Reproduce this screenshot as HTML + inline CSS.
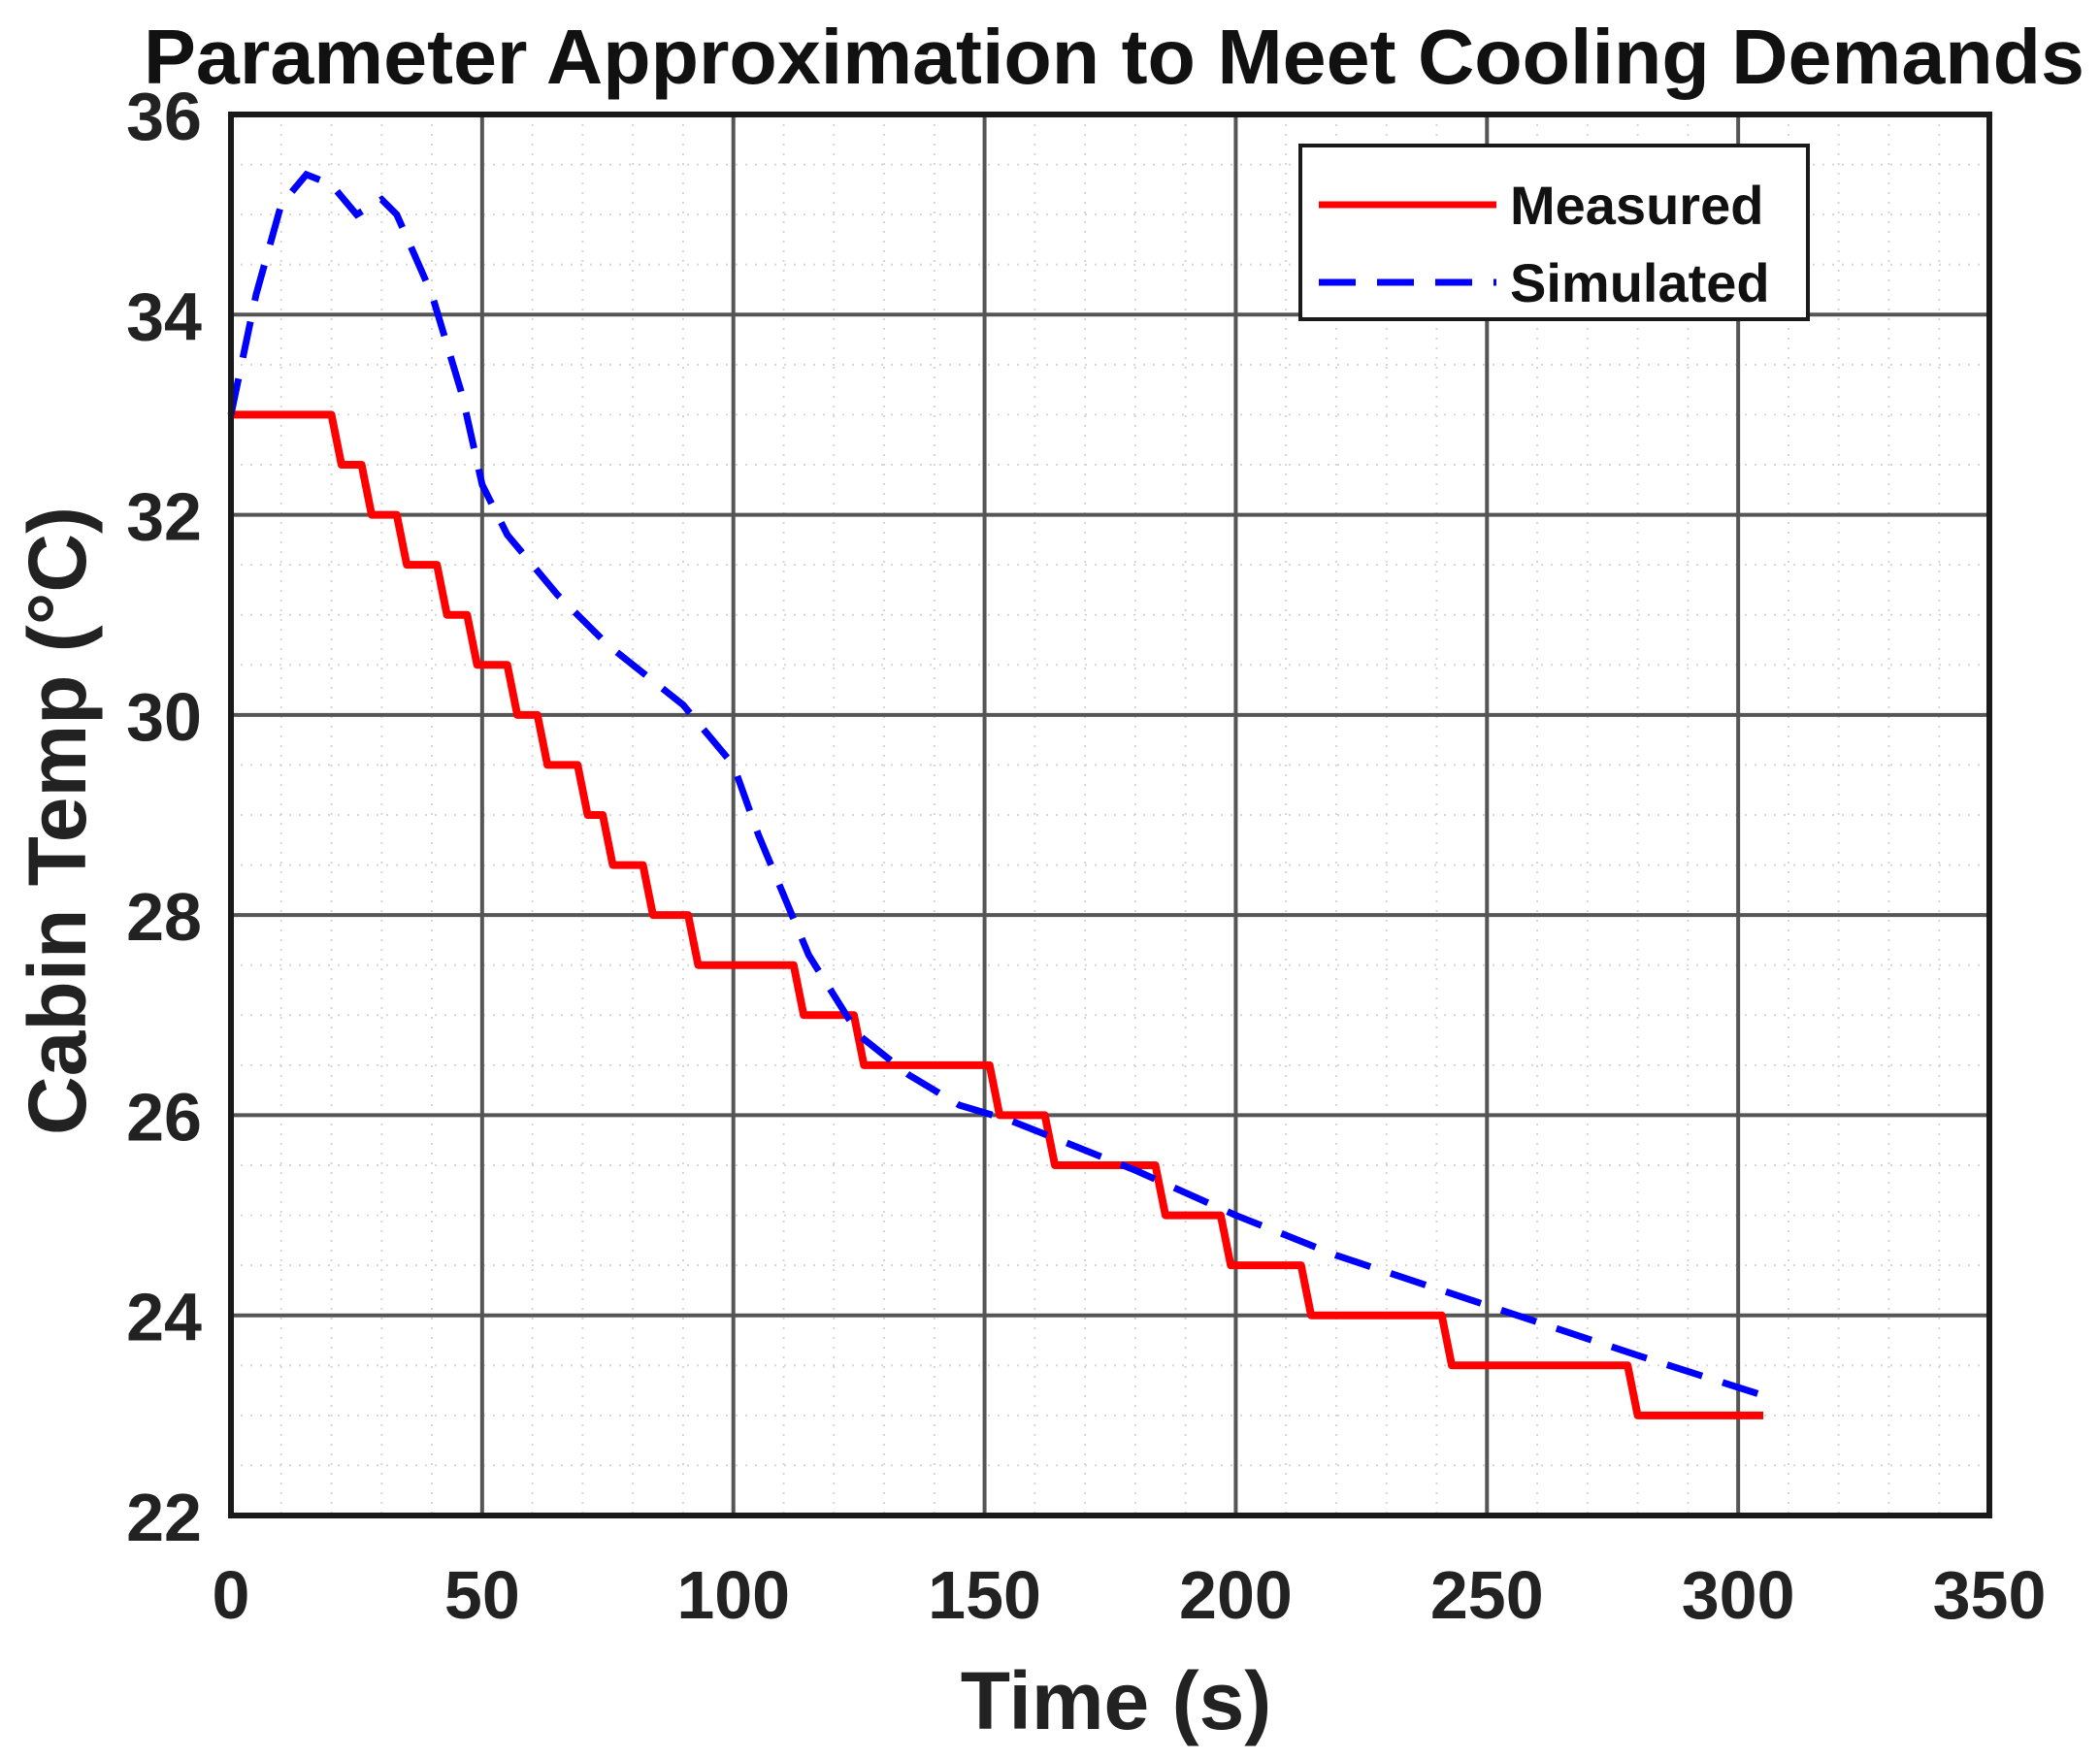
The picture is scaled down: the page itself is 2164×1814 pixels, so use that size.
<!DOCTYPE html>
<html><head><meta charset="utf-8"><style>
html,body{margin:0;padding:0;background:#fff;}
svg{display:block;font-family:"Liberation Sans",Arial,sans-serif;font-weight:bold;}
</style></head><body>
<svg id="chart" width="2164" height="1814" viewBox="0 0 2164 1814" xmlns="http://www.w3.org/2000/svg">
<rect x="0" y="0" width="2164" height="1814" fill="#fff"/>
<rect x="238" y="118" width="1812" height="1444" fill="#fff"/>
<g id="grid"></g>
<g id="series"></g>
<rect x="238" y="118" width="1812" height="1444" fill="none" stroke="#1a1a1a" stroke-width="6"/>
<g id="ticks" font-size="70" fill="#222"></g>
<text x="1148" y="86" text-anchor="middle" font-size="80" textLength="2000" lengthAdjust="spacingAndGlyphs" fill="#111">Parameter Approximation to Meet Cooling Demands</text>
<text x="1150" y="1782" text-anchor="middle" font-size="84" fill="#222">Time (s)</text>
<text transform="translate(88,846) rotate(-90)" text-anchor="middle" font-size="84" fill="#222">Cabin Temp (°C)</text>
<g>
<rect x="1340" y="150" width="523" height="179" fill="#fff" stroke="#1a1a1a" stroke-width="4"/>
<line x1="1359" y1="211" x2="1542" y2="211" stroke="#f00" stroke-width="7"/>
<text x="1556" y="231" font-size="56" fill="#111">Measured</text>
<line x1="1359" y1="291" x2="1542" y2="291" stroke="#00f" stroke-width="7" stroke-dasharray="38,22"/>
<text x="1556" y="311" font-size="56" fill="#111">Simulated</text>
</g>
</svg>
<script>
const xTicks = [0,50,100,150,200,250,300,350];
const yTicks = [22,24,26,28,30,32,34,36];
const measuredStepTimes = [0,21,27,34,42,48,56,62,70,75,83,92,113,125,152,163,185,198,214,242,279];
const measuredStepValues = [33,32.5,32,31.5,31,30.5,30,29.5,29,28.5,28,27.5,27,26.5,26,25.5,25,24.5,24,23.5,23];
const measuredEndTime = 305;
const simTimes = [0,5,10,15,20,25,30,33,40,46,50,55,65,75,90,100,105,115,125,135,145,155,165,180,200,220,250,280,305];
const simValues = [33,34.2,35.1,35.4,35.3,35.0,35.15,35.0,34.2,33.2,32.3,31.8,31.2,30.7,30.1,29.5,28.8,27.6,26.8,26.4,26.1,25.95,25.75,25.45,25.0,24.6,24.1,23.6,23.2];

const X0=238,X1=2050,Y0=1562,Y1=118;
const xS=v=>X0+(v-0)/(350-0)*(X1-X0);
const yS=v=>Y0-(v-22)/(36-22)*(Y0-Y1);
const NS="http://www.w3.org/2000/svg";
const grid=document.getElementById('grid'),ticks=document.getElementById('ticks'),series=document.getElementById('series');
function mk(tag,attrs,parent){const e=document.createElementNS(NS,tag);for(const k in attrs)e.setAttribute(k,attrs[k]);parent.appendChild(e);return e;}
// minor grid
for(let v=0;v<=350;v+=10){if(v%50===0)continue;
 const l=mk('line',{x1:xS(v),x2:xS(v),y1:Y1,y2:Y0,stroke:'#d6d6d6','stroke-width':2,'stroke-dasharray':'2,8'},grid);
 
 }
for(let v=22;v<=36;v+=0.5){if(Math.abs(v%2)<1e-6)continue;
 const l=mk('line',{x1:X0,x2:X1,y1:yS(v),y2:yS(v),stroke:'#d6d6d6','stroke-width':2,'stroke-dasharray':'2,8'},grid);
 
 }
xTicks.forEach(v=>{
 const l=mk('line',{x1:xS(v),x2:xS(v),y1:Y1,y2:Y0,stroke:'#555','stroke-width':4},grid);
 
 
 const t=mk('text',{x:xS(v),y:1668,'text-anchor':'middle'},ticks);t.textContent=v;
 
 });
yTicks.forEach(v=>{
 const l=mk('line',{x1:X0,x2:X1,y1:yS(v),y2:yS(v),stroke:'#555','stroke-width':4},grid);
 
 
 const t=mk('text',{x:208,y:yS(v)+26,'text-anchor':'end'},ticks);t.textContent=v;
 
 });
// measured
let pts=[];
measuredStepTimes.forEach((t,i)=>{
 const v=measuredStepValues[i];
 if(i===0){pts.push([t,v]);}else{pts.push([t-1,measuredStepValues[i-1]]);pts.push([t+1,v]);}
});
pts.push([measuredEndTime,measuredStepValues[measuredStepValues.length-1]]);
const mp=mk('polyline',{points:pts.map(p=>xS(p[0])+','+yS(p[1])).join(' '),fill:'none',stroke:'#f00','stroke-width':8,'stroke-linejoin':'round'},series);


const sp=mk('polyline',{points:simTimes.map((t,i)=>xS(t)+','+yS(simValues[i])).join(' '),fill:'none',stroke:'#00f','stroke-width':7,'stroke-dasharray':'38,22'},series);


</script>
</body></html>
